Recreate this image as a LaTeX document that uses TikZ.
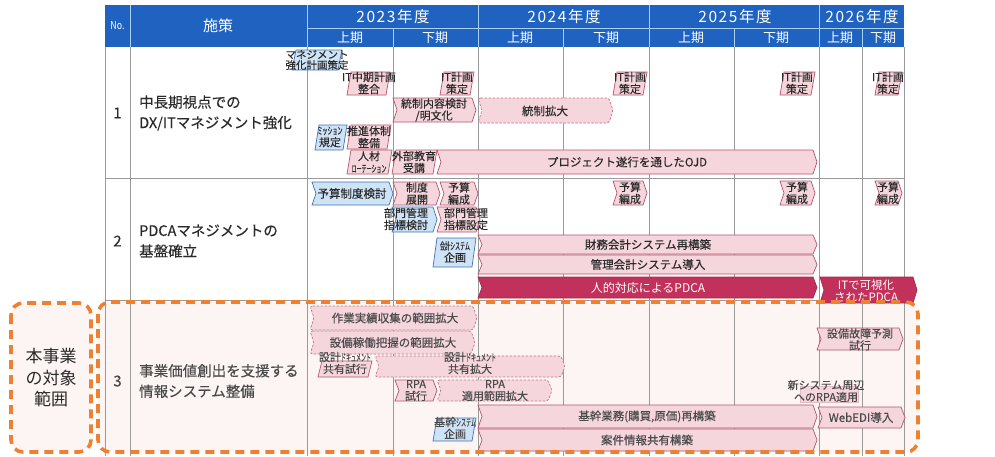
\documentclass[tikz,border=0pt]{standalone}
\usepackage{fontspec}
\usepackage{graphicx}
\setmainfont{Noto Sans CJK JP}
\newfontfamily\widef{Noto Sans CJK JP}[LetterSpace=10]
\newfontfamily\bodyf{Noto Sans CJK JP}[FakeBold=0.25]
\definecolor{hdr}{HTML}{2062C0}
\definecolor{hdrline}{HTML}{A8D0F5}
\definecolor{gridc}{HTML}{9A9A9A}
\definecolor{pinkf}{HTML}{F6D6DD}
\definecolor{pinkd}{HTML}{B4546E}
\definecolor{bluef}{HTML}{CFE3F6}
\definecolor{blued}{HTML}{3E73B6}
\definecolor{crim}{HTML}{C2305C}
\definecolor{orng}{HTML}{EE8131}
\definecolor{bgp}{HTML}{FCF5F3}
\definecolor{txt}{HTML}{2A2A2A}
\definecolor{txtg}{HTML}{4A4A4A}
\newcommand\gchev[5][]{\draw[#1] (#2,#3) -- ({#4-4},#3) -- (#4,{(#3+#5)/2}) -- ({#4-4},#5) -- (#2,#5) -- ({#2+4},{(#3+#5)/2}) -- cycle;}
\newcommand\gpar[5][]{\draw[#1] ({#2+4},#3) -- (#4,#3) -- ({#4-4},#5) -- (#2,#5) -- cycle;}
\newcommand\hw[1]{\scalebox{0.5}[1]{\fontsize{10}{11}\selectfont #1}}
\tikzset{
  pk/.style={fill=pinkf, draw=pinkd, line width=0.7pt},
  bl/.style={fill=bluef, draw=blued, line width=0.7pt},
  pkd/.style={fill=pinkf, draw=pinkd!80, dash pattern=on 2.5pt off 1.5pt, rounded corners=2.5pt, line width=0.7pt},
  cr/.style={fill=crim, draw=crim!85!black, line width=0.7pt},
  lbl/.style={font=\bodyf\fontsize{11}{12}\selectfont, text=txt, inner sep=0pt, align=center},
  lblg/.style={lbl, text=txtg},
  lblw/.style={lbl, text=white, font=\fontsize{12}{13}\selectfont},
  bar/.style={lbl, font=\bodyf\fontsize{11.5}{12}\selectfont},
  hd/.style={text=white, inner sep=0pt, font=\fontsize{13}{14}\selectfont},
  ttl/.style={text=txt, inner sep=0pt, align=left, anchor=west, font=\bodyf\fontsize{14.5}{20.5}\selectfont},
  num/.style={text=txt, inner sep=0pt, font=\bodyf\fontsize{15}{16}\selectfont},
  gl/.style={draw=gridc, line width=0.9pt},
  obox/.style={draw=orng, line width=3.6pt, dash pattern=on 9pt off 6pt, rounded corners=12pt}
}
\begin{document}
\begin{tikzpicture}[x=1pt,y=-1pt]
\useasboundingbox (0,0) rectangle (995,456);
\fill[white] (0,0) rectangle (995,456);
% row 3 background
\fill[bgp, rounded corners=12pt] (98,302) rectangle (918,452);
\fill[bgp, rounded corners=12pt] (11,303) rectangle (91,452);
% header
\fill[hdr] (105,5) rectangle (904,47);
\foreach \xx in {130,307,478,649,819} \draw[hdrline, line width=0.8pt] (\xx,5) -- (\xx,47);
\foreach \xx in {393,563,734,862} \draw[hdrline, line width=0.8pt] (\xx,28) -- (\xx,47);
\draw[hdrline, line width=0.8pt] (307,28) -- (904,28);
\node[hd, font=\fontsize{11}{12}\selectfont] (hno) at (117.5,26) {\scalebox{0.8}[1]{No.}};
\node[hd, font=\fontsize{15}{16}\selectfont] (hsk) at (218,26) {施策};
\node[hd, font=\widef\fontsize{15.5}{16}\selectfont] (y23) at (393,16.5) {2023年度};
\node[hd, font=\widef\fontsize{15.5}{16}\selectfont] (y24) at (564,16.5) {2024年度};
\node[hd, font=\widef\fontsize{15.5}{16}\selectfont] (y25) at (735,16.5) {2025年度};
\node[hd, font=\widef\fontsize{15.5}{16}\selectfont] (y26) at (862,16.5) {2026年度};
\foreach \xx/\tt [count=\i] in {350/上期,435/下期,520/上期,606/下期,691/上期,776/下期,840/上期,883/下期}
  \node[hd] (s\i) at (\xx,38) {\tt};
% grid
\foreach \xx in {105,130,307,393,478,563,649,734,819,862,904} \draw[gl] (\xx,47) -- (\xx,456);
\draw[gl] (105,178) -- (904,178);
\draw[gl] (105,300) -- (904,300);
% row titles
\node[num] (n1) at (117.5,113) {1};
\node[ttl] (r1) at (139,113) {中長期視点での\\DX/ITマネジメント強化};
\node[num] (n2) at (117.5,241) {2};
\node[ttl] (r2) at (139,241) {PDCAマネジメントの\\基盤確立};
\node[num, text=txtg] (n3) at (117.5,381) {3};
\node[ttl, text=txtg] (r3) at (139,381) {事業価値創出を支援する\\情報システム整備};
% ---------- row 1
\gpar[bl]{292}{50}{342}{70}
\node[lbl, font=\bodyf\fontsize{10.5}{10.5}\selectfont] (a1) at (317,60) {マネジメント\\強化計画策定};
\gpar[pk]{347}{72}{390}{95}
\node[lbl] (a2) at (369,83) {IT中期計画\\整合};
\gpar[pk]{440}{72}{474}{95}
\node[lbl] (a3) at (457,83) {IT計画\\策定};
\gchev[pk]{393}{98}{476}{122}
\node[lbl] (a4) at (434,110) {統制内容検討\\/明文化};
\gchev[pkd]{478}{98}{613}{123}
\node[bar] (a5) at (545,111) {統制拡大};
\gpar[bl]{315}{125}{347}{150}
\node[lbl] (a6) at (330,137) {\hw{ミッション}\\規定};
\gpar[pk]{347}{125}{391}{149}
\node[lbl] (a7) at (369,137) {推進体制\\整備};
\gpar[pk]{347}{150}{392}{174}
\node[lbl] (a8) at (369,162) {人材\\\hw{ローテーション}};
\gpar[pk]{392}{150}{437}{174}
\node[lbl] (a9) at (414,162) {外部教育\\受講};
\gchev[pk]{437}{150}{817}{174}
\node[bar] (a10) at (627,162) {プロジェクト遂行を通したOJD};
\gpar[pk]{613}{72}{647}{95}
\node[lbl] (a11) at (630,83) {IT計画\\策定};
\gpar[pk]{780}{72}{815}{95}
\node[lbl] (a12) at (797,83) {IT計画\\策定};
\gpar[pk]{875}{72}{902}{95}
\node[lbl] (a13) at (888,83) {IT計画\\策定};
% ---------- row 2
\gchev[bl]{312}{182}{393}{205}
\node[bar] (b1) at (352,193.5) {予算制度検討};
\gchev[pk]{393}{182}{440}{205}
\node[lbl] (b2) at (417,193.5) {制度\\展開};
\gchev[pk]{440}{182}{478}{205}
\node[lbl] (b3) at (459,193.5) {予算\\編成};
\gchev[bl]{392}{207}{437}{232}
\node[lbl] (b4) at (406,219) {部門管理\\指標検討};
\gchev[pk]{437}{207}{480}{232}
\node[lbl] (b5) at (466,219) {部門管理\\指標設定};
\gpar[bl]{433}{238}{476}{267}
\node[lbl] (b6) at (455,252) {\hw{会計システム}\\企画};
\gchev[pk]{478}{235}{817}{254}
\node[bar] (b7) at (648,244.5) {財務会計システム再構築};
\gchev[pk]{478}{255}{817}{274}
\node[bar] (b8) at (648,264.5) {管理会計システム導入};
\gchev[cr]{478}{277}{817}{298}
\node[lblw] (b9) at (648,287.5) {人的対応によるPDCA};
\gchev[cr]{820}{277}{917}{303}
\node[lblw, font=\fontsize{11.5}{12.5}\selectfont] (b10) at (866,291) {ITで可視化\\されたPDCA};
\gchev[pk]{613}{181}{647}{205}
\node[lbl] (b11) at (630,193) {予算\\編成};
\gchev[pk]{780}{181}{815}{205}
\node[lbl] (b12) at (797,193) {予算\\編成};
\gchev[pk]{875}{181}{902}{205}
\node[lbl] (b13) at (888,193) {予算\\編成};
% ---------- row 3
\gchev[pkd]{310}{306}{477}{330}
\node[bar, text=txtg] (c1) at (395,318) {作業実績収集の範囲拡大};
\gchev[pkd]{310}{331}{475}{354}
\node[bar, text=txtg] (c2) at (393,342.5) {設備稼働把握の範囲拡大};
\gpar[pk]{318}{361}{372}{377}
\node[lblg] (c3) at (345,363) {設計\hw{ドキュメント}\\共有試行};
\gchev[pkd]{375}{356}{565}{377}
\node[lblg] (c4) at (470,363) {設計\hw{ドキュメント}\\共有拡大};
\gchev[pk]{395}{380}{437}{401}
\node[lblg] (c5) at (416,390.5) {RPA\\試行};
\gchev[pkd]{437}{380}{552}{401}
\node[lblg] (c6) at (495,390.5) {RPA\\適用範囲拡大};
\gpar[bl]{433}{418}{476}{441}
\node[lblg] (c7) at (455,428) {基幹\hw{システム}\\企画};
\gchev[pk]{478}{405}{817}{428}
\node[bar, text=txtg] (c8) at (647,416.5) {基幹業務(購買,原価)再構築};
\gchev[pk]{478}{429}{817}{451}
\node[bar, text=txtg] (c9) at (647,440) {案件情報共有構築};
\gchev[pk]{817}{328}{903}{350}
\node[lblg] (c10) at (860,339.5) {設備故障予測\\試行};
\draw[fill=pinkf, draw=pinkd!40, line width=0.5pt] (800,386) rectangle (858,402);
\node[lblg] (c11) at (826,391) {新システム周辺\\へのRPA適用};
\gchev[pk]{818}{407}{905}{428}
\node[bar, text=txtg] (c12) at (861,417.5) {WebEDI導入};
% orange boxes
\draw[obox] (98,302) rectangle (918,452);
\draw[obox] (11,303) rectangle (91,452);
\node[text=txt, inner sep=0pt, align=center, font=\fontsize{17}{21.5}\selectfont] (scope) at (51,378) {本事業\\の対象\\範囲};
\end{tikzpicture}
\end{document}
